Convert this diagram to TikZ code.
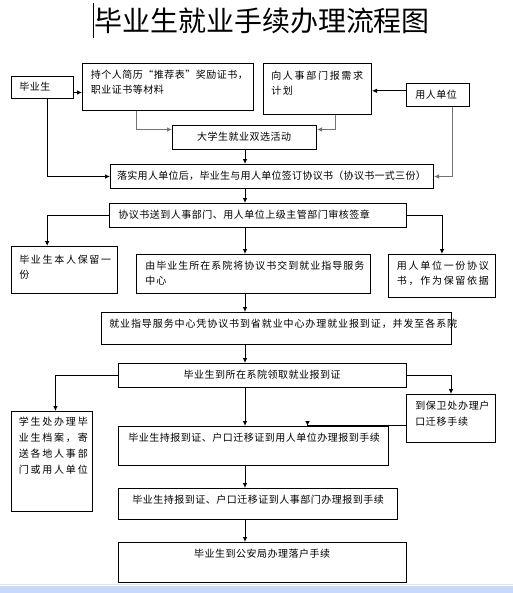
\documentclass[tikz,border=0pt]{standalone}
\usepackage{fontspec}
\usepackage{xcolor}
\newfontfamily\cjk{Noto Sans CJK SC}
\usetikzlibrary{arrows.meta}

\definecolor{bandblue}{RGB}{200,216,248}
\definecolor{bandline}{RGB}{226,226,226}

\tikzset{
  box/.style={draw, rectangle, inner sep=0pt, anchor=north west, line width=0.75pt},
  wh/.style 2 args={minimum width=#1*0.75pt, minimum height=#2*0.75pt},
  txt/.style={inner sep=0pt, anchor=base west, font=\cjk\addfontfeature{LetterSpace=#1}\fontsize{7.5pt}{11.25pt}\selectfont},
  txt/.default=5,
  tall/.style={font=\cjk\addfontfeature{LetterSpace=#1}\fontsize{7.5pt}{12pt}\selectfont},
  multi/.style={text width=300pt, align=left},
  arr/.style={line width=0.75pt, -{Latex[length=3.75pt,width=3.5pt]}},
  garr/.style={arr, draw=black!55},
}

\begin{document}
\begin{tikzpicture}[x=0.75pt,y=0.75pt,yscale=-1,xscale=1]
    \useasboundingbox (0,0) rectangle (513,593);

    % Title
    \draw[line width=1.1pt] (93.5,3) -- (93.5,38);
    \node[inner sep=0pt, anchor=base, font=\cjk\fontsize{21pt}{25pt}\selectfont] (title) at (262,31.4) {毕业生就业手续办理流程图};

    % Boxes
    \node[box, wh={62}{22}] (grad) at (11,76) {};
    \node[box, wh={171}{47}] (mat) at (82,63) {};
    \node[box, wh={108}{51}] (plan) at (263,63) {};
    \node[box, wh={63}{23}] (emp) at (406,83) {};
    \node[box, wh={144}{24}] (fair) at (172,125) {};
    \node[box, wh={323}{24}] (sign) at (110,164) {};
    \node[box, wh={297}{24}] (audit) at (109,203) {};
    \node[box, wh={106}{47}] (keep) at (11,246) {};
    \node[box, wh={234}{39}] (dept) at (136,254) {};
    \node[box, wh={107}{43}] (empcopy) at (388,254) {};
    \node[box, wh={350}{32}] (center) at (101,312) {};
    \node[box, wh={288}{24}] (fetch) at (118,363) {};
    \node[box, wh={81}{100}] (archive) at (11,411) {};
    \node[box, wh={89}{48}] (hukou) at (406,394) {};
    \node[box, wh={270}{39}] (report1) at (118,426) {};
    \node[box, wh={279}{31}] (report2) at (118,488) {};
    \node[box, wh={288}{40}] (settle) at (118,542) {};

    % Text Node
    \node[txt] (tgrad) at (19,90.8) {毕业生};
    \node[txt, multi] (tmat) at (90.7,78.8) {持个人简历“推荐表”奖励证书，\\职业证书等材料};
    \node[txt=17, multi] (tplan) at (271,79.5) {向人事部门报需求\\计划};
    \node[txt] (temp) at (415,98.8) {用人单位};
    \node[txt, anchor=base] (tfair) at (244,140.8) {大学生就业双选活动};
    \node[txt=3, anchor=base] (tsign) at (271.5,179.8) {落实用人单位后，毕业生与用人单位签订协议书（协议书一式三份）};
    \node[txt] (taudit) at (118,218.8) {协议书送到人事部门、用人单位上级主管部门审核签章};
    \node[txt=17, multi] (tkeep) at (19,263.8) {毕业生本人保留一\\份};
    \node[txt=10, multi] (tdept) at (145,269.8) {由毕业生所在系院将协议书交到就业指导服务\\中心};
    \node[txt=17, multi] (tempcopy) at (396.7,269.8) {用人单位一份协议\\书，作为保留依据};
    \node[txt=9] (tcenter) at (109,327.8) {就业指导服务中心凭协议书到省就业中心办理就业报到证，并发至各系院};
    \node[txt, anchor=base] (tfetch) at (262,378.8) {毕业生到所在系院领取就业报到证};
    \node[txt, tall=18, multi] (tarchive) at (18.5,425.3) {学生处办理毕\\业生档案，寄\\送各地人事部\\门或用人单位};
    \node[txt, tall=7, multi] (thukou) at (415,409.5) {到保卫处办理户\\口迁移手续};
    \node[txt] (treport1) at (128,441.5) {毕业生持报到证、户口迁移证到用人单位办理报到手续};
    \node[txt, anchor=base] (treport2) at (258,503.8) {毕业生持报到证、户口迁移证到人事部门办理报到手续};
    \node[txt, anchor=base] (tsettle) at (262,557.8) {毕业生到公安局办理落户手续};

    % Connectors
    \coordinate (spine) at (245,0);
    \draw[arr] ([yshift=3.75pt]grad.east) coordinate (g1) -- (g1 -| mat.west);
    \draw[arr] ([yshift=-3.15pt]emp.west) coordinate (e1) -- (e1 -| plan.east);
    \draw[garr] ([xshift=40.5pt]mat.south west) |- ([yshift=-6pt]fair.west);
    \draw[garr] ([xshift=-27.75pt]plan.south east) |- ([yshift=-6pt]fair.east);
    \draw[arr] (spine |- fair.south) -- (spine |- sign.north);
    \draw[arr] ([xshift=3.5pt]grad.south) |- (sign.west);
    \draw[garr] ([xshift=10.65pt]emp.south) |- (sign.east);
    \draw[arr] (spine |- sign.south) -- (spine |- audit.north);
    \draw[arr] (audit.west) -| ([xshift=-13pt]keep.north);
    \draw[arr] (spine |- audit.south) -- (spine |- dept.north);
    \draw[arr] (audit.east) -| (empcopy.north);
    \draw[arr] (spine |- dept.south) -- (spine |- center.north);
    \draw[arr] (spine |- center.south) -- (spine |- fetch.north);
    \draw[arr] (fetch.west) -| ([xshift=2.6pt]archive.north);
    \draw[arr] (fetch.east) -| (hukou.north);
    \draw[arr] (spine |- fetch.south) -- (spine |- report1.north);
    \draw[arr] ([yshift=5.5pt]hukou.west) -| ([xshift=40.5pt]report1.north);
    \draw[arr] (spine |- report1.south) -- (spine |- report2.north);
    \draw[arr] (spine |- report2.south) -- (spine |- settle.north);

    % Bottom band
    \fill[bandblue] (0,585.5) rectangle (513,593);
    \draw[bandline, line width=0.75pt] (0,584.5) -- (513,584.5);
\end{tikzpicture}
\end{document}
